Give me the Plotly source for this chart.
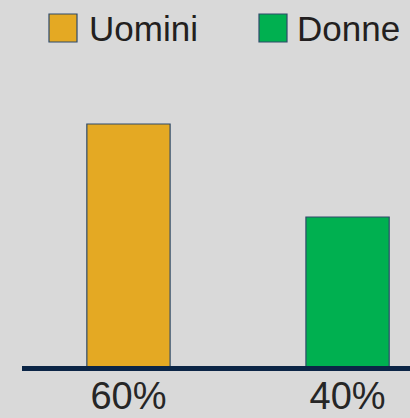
import plotly.graph_objects as go

series = ["Uomini", "Donne"]
categories = ["60%", "40%"]
values = [60, 40]
colors = ["#e4a923", "#00b050"]

W, H = 410, 418
L, R, T, B = 22, 0, 60, 52
plot_w = W - L - R
plot_h = H - T - B

def px(x):
    return (x - L) / plot_w

def py(y):
    return (H - B - y) / plot_h

fig = go.Figure()
for name, cat, val, col in zip(series, categories, values, colors):
    fig.add_trace(go.Bar(
        x=[cat], y=[val], name=name, width=0.38,
        marker=dict(color=col, line=dict(color="#2e4a6a", width=1.2)),
        showlegend=False,
    ))

# custom legend (large squares)
legend_pos = [(49, 89), (259, 297)]
for (sx, tx), name, col in zip(legend_pos, series, colors):
    fig.add_shape(type="rect", xref="paper", yref="paper",
                  x0=px(sx), x1=px(sx + 28), y0=py(42), y1=py(14),
                  fillcolor=col, line=dict(color="#2e4a6a", width=1.2))
    fig.add_annotation(xref="paper", yref="paper", x=px(tx - 2), y=py(29),
                       xanchor="left", yanchor="middle", text=name, showarrow=False,
                       font=dict(size=35, color="#231f20", family="Liberation Sans, Arial"))

fig.update_layout(
    width=W, height=H,
    margin=dict(l=L, r=R, t=T, b=B, pad=0, autoexpand=False),
    paper_bgcolor="#d9d9d9", plot_bgcolor="#d9d9d9",
    barmode="overlay",
    font=dict(family="Liberation Sans, Arial", color="#262626"),
    xaxis=dict(type="category", categoryorder="array", categoryarray=categories,
               range=[-0.486, 1.285], showline=True, linecolor="#0b2546", linewidth=5,
               showgrid=False, zeroline=False, ticks="", ticklen=0, automargin=False,
               ticklabelstandoff=-8,
               tickfont=dict(size=38, color="#262626"), fixedrange=True),
    yaxis=dict(range=[7.96, 7.96 + plot_h / 4.65], visible=False, showgrid=False,
               zeroline=False, fixedrange=True, automargin=False),
)

fig.write_html(
    "out.html",
    config={"displayModeBar": False},
    post_script="document.body.style.margin='0';document.body.style.overflow='hidden';",
)
